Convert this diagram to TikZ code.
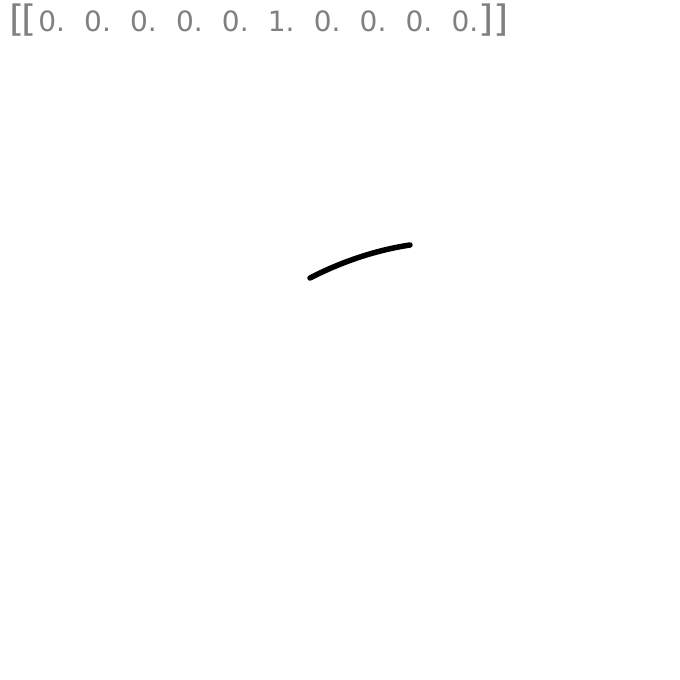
\documentclass[tikz,border=0pt]{standalone}
\usepackage{fontspec}
\newfontfamily\lblfont{DejaVu Sans}
\definecolor{txtgray}{RGB}{128,128,128}
\newcommand{\tallbr}[1]{\scalebox{1.4}[1.3]{#1}}
\newcommand{\elsep}{\hspace{19.2pt}}
\begin{document}
\begin{tikzpicture}[x=1pt,y=1pt,
  stroke/.style={line width=5.5pt,line cap=round,black},
  label/.style={anchor=base west,inner sep=0pt,text=txtgray,font=\lblfont\fontsize{28}{30}\selectfont}]
\useasboundingbox (0,0) rectangle (680,680);
\node[label] (lbl) at (9.1,648) {\makebox[12.5pt][l]{\tallbr{[}}\makebox[12.5pt][l]{\tallbr{[}}\hspace{4.05pt}0.\elsep 0.\elsep 0.\elsep 0.\elsep 0.\elsep 1.\elsep 0.\elsep 0.\elsep 0.\elsep 0.\hspace{0.55pt}\makebox[15pt][l]{\tallbr{]}}\makebox[12pt][l]{\tallbr{]}}};
\coordinate (s) at (310,402);
\coordinate (e) at (410,435);
\draw[stroke] (s) .. controls (343,419) and (377,430) .. (e);
\end{tikzpicture}
\end{document}
